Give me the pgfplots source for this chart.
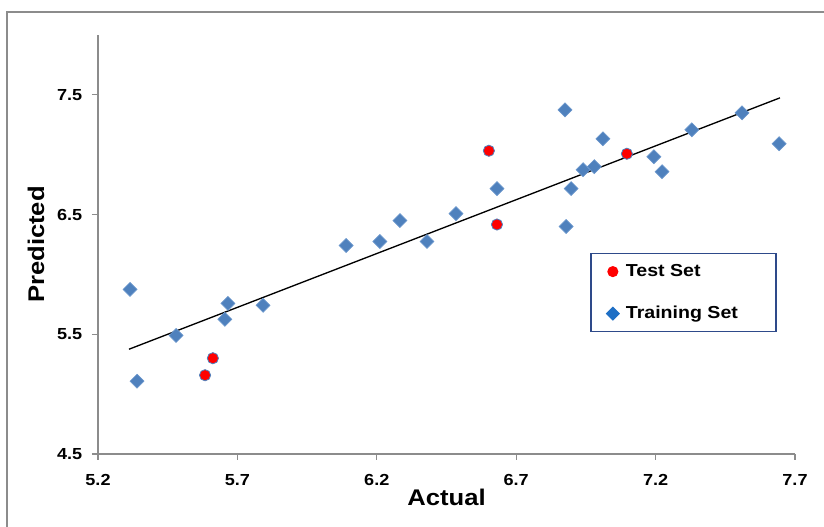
\documentclass[border=0pt]{standalone}
\usepackage{fontspec}
\setmainfont{Liberation Sans}[FakeStretch=1.13]
\usepackage{pgfplots}
\pgfplotsset{compat=1.18}
\definecolor{dblue}{HTML}{4F81BD}
\definecolor{dbluel}{HTML}{6A96CC}
\definecolor{lblue}{HTML}{1F6FC5}
\definecolor{framegray}{HTML}{8C8C8C}
\definecolor{axgray}{HTML}{8C8C8C}
\definecolor{legframe}{HTML}{2E4A8A}
\pgfplotstableread{
x y
5.315 5.875
5.340 5.108
5.480 5.490
5.655 5.625
5.666 5.758
5.792 5.742
6.090 6.242
6.211 6.275
6.283 6.450
6.380 6.275
6.484 6.508
6.631 6.717
6.879 6.400
6.897 6.717
6.940 6.875
6.980 6.900
7.011 7.133
6.875 7.375
7.194 6.983
7.223 6.858
7.330 7.208
7.510 7.350
7.643 7.092
}\training
\pgfplotstableread{
x y
5.584 5.158
5.612 5.300
6.602 7.033
6.631 6.417
7.097 7.008
}\testset
\begin{document}
\begin{tikzpicture}
\useasboundingbox (-73.5pt,-54.75pt) rectangle (544.5pt,340.5pt);
\draw[framegray, line width=0.9pt] (-68.25pt,-70pt) -- (-68.25pt,331.5pt) -- (560pt,331.5pt);
\begin{axis}[
  scale only axis, width=522.75pt, height=314.25pt,
  xmin=5.2, xmax=7.7, ymin=4.5, ymax=8,
  xtick={5.2,5.7,6.2,6.7,7.2,7.7}, ytick={4.5,5.5,6.5,7.5},
  xticklabels={5.2,5.7,6.2,6.7,7.2,7.7}, yticklabels={4.5,5.5,6.5,7.5},
  axis x line*=bottom, axis y line*=left,
  axis line style={axgray, line width=0.9pt},
  tick style={axgray, line width=0.9pt},
  tick align=outside, major tick length=4.5pt,
  ticklabel style={font=\fontsize{12}{14}\selectfont\bfseries},
  xticklabel style={yshift=-7pt},
  yticklabel style={xshift=-3.75pt},
  xlabel={Actual}, ylabel={Predicted},
  label style={font=\fontsize{17}{20}\selectfont\bfseries},
  xlabel style={at={(axis description cs:0.5,-0.1026)}, anchor=center},
  ylabel style={at={(axis description cs:-0.089,0.5)}, anchor=center},
  clip=false,
  legend cell align=left,
  legend style={at={(axis description cs:0.706,0.48)}, anchor=north west,
    draw=legframe, line width=1.1pt, fill=white,
    font=\fontsize{13}{15}\selectfont\bfseries,
    inner xsep=12pt, inner ysep=7.5pt, row sep=19.5pt, column sep=5.25pt,
    nodes={inner sep=0pt, text height=9.5pt, text depth=2.5pt}},
]
\addlegendimage{only marks, mark=*, mark size=3.6pt, mark options={fill=red, draw=red}}
\addlegendentry{Test Set}
\addlegendimage{only marks, mark=square*, mark size=3.2pt, mark options={fill=lblue, draw=lblue, rotate=45}}
\addlegendentry{Training Set\rule{16.5pt}{0pt}}
\addplot[black, line width=1pt, forget plot] coordinates {(5.311,5.375) (7.646,7.475)};
\addplot[only marks, mark=square*, mark size=3.7pt,
  mark options={fill=dblue, draw=dbluel, line width=0.5pt, rotate=45}, forget plot] table {\training};
\addplot[only marks, mark=*, mark size=4.2pt,
  mark options={fill=red, draw=dblue, line width=0.6pt}, forget plot] table {\testset};
\end{axis}
\end{tikzpicture}
\end{document}
